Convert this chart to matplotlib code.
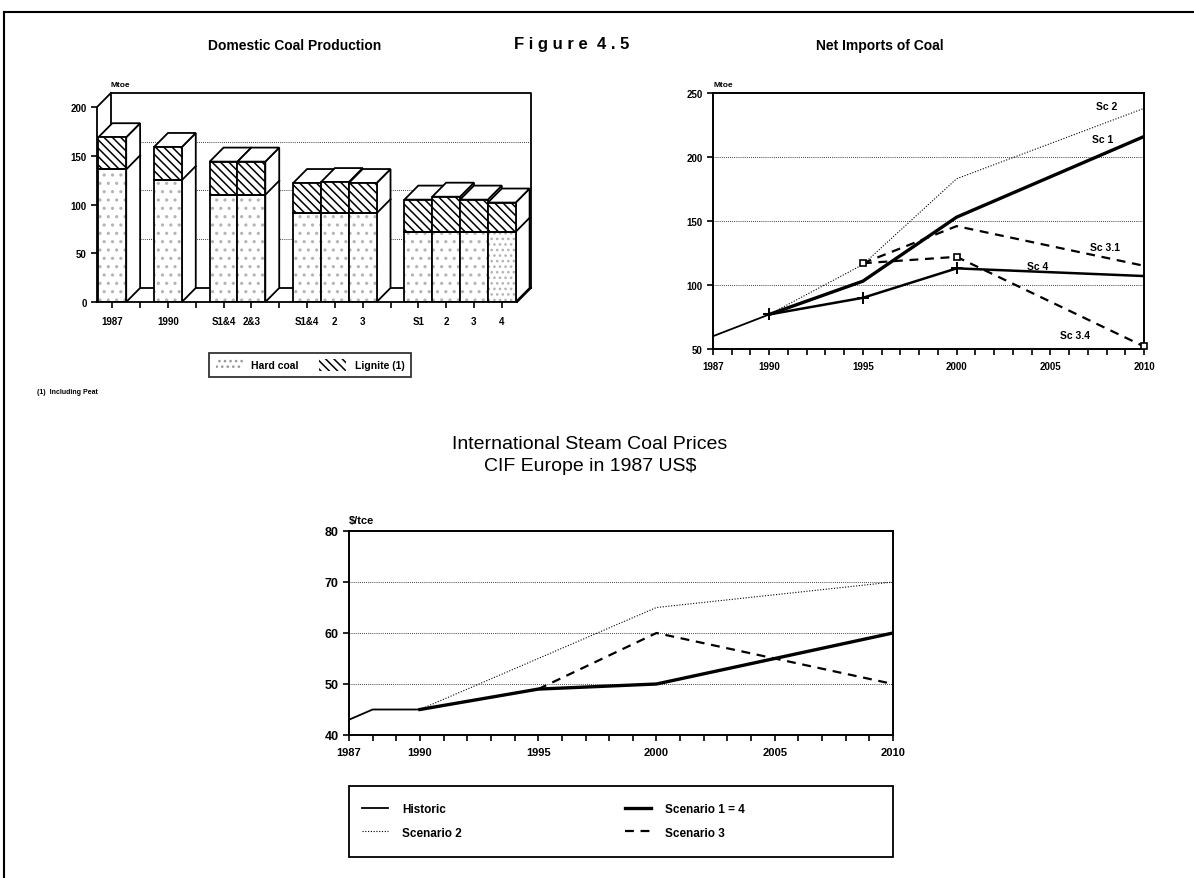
import numpy as np
import matplotlib
matplotlib.use('Agg')
import matplotlib.pyplot as plt
from matplotlib.patches import Polygon, Patch, Rectangle
from matplotlib.lines import Line2D

plt.rcParams['font.family'] = ['Liberation Sans Narrow', 'Liberation Sans', 'DejaVu Sans']
plt.rcParams['font.weight'] = 'bold'
plt.rcParams['hatch.linewidth'] = 1.1

# domestic production (Mtoe)
bar_labels = ['1987', '1990', 'S1&4', '2&3', 'S1&4', '2', '3', 'S1', '2', '3', '4']
group_sizes = [1, 1, 2, 3, 4]
hard_coal = [136, 125, 110, 110, 91, 91, 91, 72, 72, 72, 72]
lignite = [33, 34, 34, 34, 31, 32, 31, 33, 36, 33, 30]

# net imports (Mtoe)
imp_hist_yr = [1987, 1990]
imp_hist = [60, 77]
imp_sc1_yr = [1990, 1995, 2000, 2010]
imp_sc1 = [77, 103, 153, 216]
imp_sc2_yr = [1990, 1995, 2000, 2010]
imp_sc2 = [77, 116, 183, 238]
imp_sc31_yr = [1995, 2000, 2010]
imp_sc31 = [117, 146, 115]
imp_sc34_yr = [1995, 2000, 2010]
imp_sc34 = [117, 122, 52]
imp_sc4_yr = [1990, 1995, 2000, 2010]
imp_sc4 = [77, 90, 113, 107]

# steam coal prices ($/tce)
pr_hist_yr = [1987, 1988, 1990]
pr_hist = [43, 45, 45]
pr_sc14_yr = [1990, 1995, 2000, 2005, 2010]
pr_sc14 = [45, 49, 50, 55, 60]
pr_sc2_yr = [1990, 1995, 2000, 2005, 2010]
pr_sc2 = [45, 55, 65, 67.5, 70]
pr_sc3_yr = [1995, 2000, 2005, 2010]
pr_sc3 = [49, 60, 55, 50]

W, H = 1194, 879
fig = plt.figure(figsize=(W / 100, H / 100), dpi=100)

def px_axes(x0, y0, x1, y1):
    return fig.add_axes([x0 / W, 1 - y1 / H, (x1 - x0) / W, (y1 - y0) / H])

# page frame
fig.add_artist(Line2D([4 / W, 1], [1 - 13 / H] * 2, color='k', lw=1.5))
fig.add_artist(Line2D([4 / W] * 2, [0, 1 - 13 / H], color='k', lw=1.5))

fig.text(295 / W, 1 - 46 / H, 'Domestic Coal Production', ha='center', va='center', fontsize=10)
fig.text(572 / W, 1 - 44 / H, 'F i g u r e  4 . 5', ha='center', va='center', fontsize=12)
fig.text(880 / W, 1 - 46 / H, 'Net Imports of Coal', ha='center', va='center', fontsize=10)

# ---------------- 3D bar chart ----------------
ax = px_axes(97, 94, 531, 303)
dx, dy = 0.5, 14.4
pos = []
p = 0
for g in group_sizes:
    for k in range(g):
        pos.append(p)
        p += 1
    p += 1
x_lo, x_hi = -0.55, 14.55
ax.set_xlim(x_lo, x_hi + dx)
ax.set_ylim(0, 200 + dy)
for s in ax.spines.values():
    s.set_visible(False)

lw = 1.3
# back wall and floor, behind the bars
kw = dict(color='k', lw=lw, clip_on=False, zorder=0.5)
ax.plot([x_lo + dx, x_hi + dx, x_hi + dx], [200 + dy, 200 + dy, dy], **kw)
ax.plot([x_lo + dx, x_lo + dx], [dy, 200 + dy], **kw)
ax.plot([x_lo + dx, x_hi + dx], [dy, dy], **kw)
ax.plot([x_hi, x_hi + dx], [0, dy], **kw)
for g in [50, 100, 150]:
    ax.plot([x_lo + dx, x_hi + dx], [g + dy, g + dy], color='k', lw=0.6, ls=(0, (1, 1.5)), zorder=0.4)

for i, x in enumerate(pos):
    z = 1 + i * 0.1
    h1 = hard_coal[i]
    h2 = h1 + lignite[i]
    side = Polygon([(x + 0.5, 0), (x + 0.5 + dx, dy), (x + 0.5 + dx, h2 + dy), (x + 0.5, h2)],
                   closed=True, fc='white', ec='k', lw=lw, zorder=z)
    top = Polygon([(x - 0.5, h2), (x + 0.5, h2), (x + 0.5 + dx, h2 + dy), (x - 0.5 + dx, h2 + dy)],
                  closed=True, fc='white', ec='k', lw=lw, zorder=z)
    ax.add_patch(side)
    ax.add_patch(top)
    ax.plot([x + 0.5, x + 0.5 + dx], [h1, h1 + dy], color='k', lw=lw, zorder=z + 0.01)
    dots = '...' if i == len(pos) - 1 else '..'
    ax.bar(x, h1, width=1.0, color='white', edgecolor='#b4b4b4', hatch=dots, lw=0, zorder=z + 0.02)
    ax.bar(x, lignite[i], bottom=h1, width=1.0, color='white', edgecolor='k', hatch='\\\\\\\\',
           lw=0, zorder=z + 0.02)
    ax.bar(x, h1, width=1.0, fill=False, edgecolor='k', lw=lw, zorder=z + 0.03)
    ax.bar(x, lignite[i], bottom=h1, width=1.0, fill=False, edgecolor='k', lw=lw, zorder=z + 0.03)

# front floor edge and axis
ax.plot([x_lo, x_hi], [0, 0], color='k', lw=lw, clip_on=False, zorder=5)
ax.plot([x_lo, x_lo, x_lo + dx], [0, 200, 200 + dy], color='k', lw=lw, clip_on=False, zorder=5)

ax.set_yticks([0, 50, 100, 150, 200])
ax.set_xticks(pos)
ax.set_xticklabels(bar_labels)
ax.set_xticks(np.arange(0, 15), minor=True)
ax.tick_params(axis='both', direction='out', length=4, width=1.2, labelsize=7)
ax.tick_params(axis='x', which='minor', direction='out', length=4, width=1.2)
ax.tick_params(axis='x', pad=6)
ax.text(x_lo + dx, 200 + dy + 5, 'Mtoe', fontsize=6, va='bottom', ha='left')

hard_patch = Patch(facecolor='white', edgecolor='#9a9a9a', hatch='...', lw=0)
lig_patch = Patch(facecolor='white', edgecolor='k', hatch='\\\\\\\\', lw=0)
leg1 = fig.legend([hard_patch, lig_patch], ['Hard coal', 'Lignite (1)'], ncol=2,
                  loc='center', bbox_to_anchor=(310 / W, 1 - 366 / H), fontsize=7.5,
                  frameon=True, fancybox=False, edgecolor='k', handlelength=2.6,
                  handleheight=1.3, columnspacing=2.0, borderpad=0.6)
leg1.get_frame().set_linewidth(1.3)
fig.text(37 / W, 1 - 393 / H, '(1)  Including Peat', fontsize=5, va='center')

# ---------------- net imports ----------------
ax2 = px_axes(713, 94, 1144, 350)
ax2.set_xlim(1987, 2010)
ax2.set_ylim(50, 250)
for y in [100, 150, 200]:
    ax2.axhline(y, color='k', lw=0.6, ls=(0, (1, 1.5)), zorder=0)
ax2.plot(imp_hist_yr, imp_hist, color='k', lw=1.3)
ax2.plot(imp_sc2_yr, imp_sc2, color='k', lw=0.8, ls=(0, (1, 1.5)))
ax2.plot(imp_sc1_yr, imp_sc1, color='k', lw=2.4)
ax2.plot(imp_sc31_yr, imp_sc31, color='k', lw=1.6, ls=(0, (4, 3)))
ax2.plot(imp_sc34_yr, imp_sc34, color='k', lw=1.6, ls=(0, (4, 3)))
ax2.plot(imp_sc34_yr, imp_sc34, ls='none', marker='s', ms=5, mfc='white', mec='k', mew=1.2,
         clip_on=False, zorder=4)
ax2.plot(imp_sc4_yr, imp_sc4, color='k', lw=1.8)
ax2.plot(imp_sc4_yr[:3], imp_sc4[:3], ls='none', marker='+', ms=8, mec='k', mew=1.4)
ax2.text(2008, 240, 'Sc 2', fontsize=7.5, ha='center', va='center')
ax2.text(2007.8, 214, 'Sc 1', fontsize=7.5, ha='center', va='center')
ax2.text(2007.9, 130, 'Sc 3.1', fontsize=7.5, ha='center', va='center')
ax2.text(2004.3, 115, 'Sc 4', fontsize=7.5, ha='center', va='center')
ax2.text(2006.3, 61, 'Sc 3.4', fontsize=7.5, ha='center', va='center')
ax2.set_xticks([1987, 1990, 1995, 2000, 2005, 2010])
ax2.set_xticks(np.arange(1987, 2011), minor=True)
ax2.set_yticks([50, 100, 150, 200, 250])
ax2.tick_params(axis='both', direction='out', length=4, width=1.2, labelsize=7)
ax2.tick_params(axis='x', which='minor', direction='out', length=4, width=1.2)
ax2.tick_params(axis='x', pad=5)
for s in ax2.spines.values():
    s.set_linewidth(1.4)
ax2.text(0, 1.02, 'Mtoe', transform=ax2.transAxes, fontsize=6, va='bottom', ha='left')

# ---------------- steam coal prices ----------------
fig.text(590 / W, 1 - 445 / H, 'International Steam Coal Prices', ha='center', va='center',
         fontsize=14, fontweight='normal')
fig.text(590 / W, 1 - 467 / H, 'CIF Europe in 1987 US$', ha='center', va='center',
         fontsize=14, fontweight='normal')
ax3 = px_axes(349, 532, 893, 736)
ax3.set_xlim(1987, 2010)
ax3.set_ylim(40, 80)
for y in [50, 60, 70]:
    ax3.axhline(y, color='k', lw=0.6, ls=(0, (1, 1.5)), zorder=0)
h_hist, = ax3.plot(pr_hist_yr, pr_hist, color='k', lw=1.3)
h_sc2, = ax3.plot(pr_sc2_yr, pr_sc2, color='k', lw=0.8, ls=(0, (1, 1.5)))
h_sc3, = ax3.plot(pr_sc3_yr, pr_sc3, color='k', lw=1.6, ls=(0, (4, 3)))
h_sc14, = ax3.plot(pr_sc14_yr, pr_sc14, color='k', lw=2.4)
ax3.set_xticks([1987, 1990, 1995, 2000, 2005, 2010])
ax3.set_xticks(np.arange(1987, 2011), minor=True)
ax3.set_yticks([40, 50, 60, 70, 80])
ax3.tick_params(axis='both', direction='out', length=4, width=1.2, labelsize=8)
ax3.tick_params(axis='y', labelsize=9)
ax3.tick_params(axis='x', which='minor', direction='out', length=4, width=1.2)
ax3.tick_params(axis='x', pad=5)
for s in ax3.spines.values():
    s.set_linewidth(1.4)
ax3.text(0, 1.03, '$/tce', transform=ax3.transAxes, fontsize=8, va='bottom', ha='left')

# legend box with two columns placed at fixed positions
fig.add_artist(Rectangle((349 / W, 1 - 858 / H), 544 / W, 71 / H, transform=fig.transFigure,
                         fill=False, ec='k', lw=1.3))
leg_kw = dict(loc='upper left', fontsize=8.5, frameon=False, handlelength=2.2,
              labelspacing=1.0, handletextpad=1.2, borderaxespad=0)
leg2a = fig.legend([h_hist, h_sc2], ['Historic', 'Scenario 2'],
                   bbox_to_anchor=(357 / W, 1 - 799 / H), **leg_kw)
leg2b = fig.legend([h_sc14, h_sc3], ['Scenario 1 = 4', 'Scenario 3'],
                   bbox_to_anchor=(620 / W, 1 - 799 / H), **leg_kw)

fig.savefig('out.png', dpi=100)
